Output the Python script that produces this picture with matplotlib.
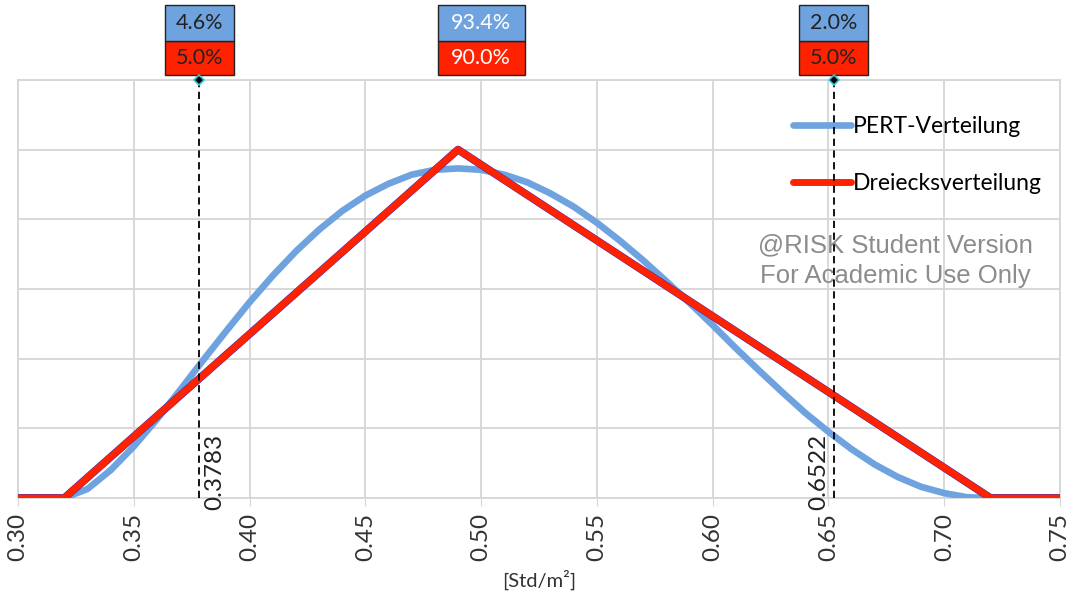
import matplotlib.pyplot as plt
import matplotlib.transforms as mtransforms
from matplotlib.patches import Rectangle

plt.rcParams['font.family'] = ['Lato', 'DejaVu Sans']

# ------------------------------------------------------------
# Daten
# ------------------------------------------------------------

# Dreiecksverteilung: min 0.32, mode 0.49, max 0.72
tri_x = [0.30, 0.32, 0.49, 0.72, 0.75]
tri_y = [0.0, 0.0, 5.0, 0.0, 0.0]

pert_x = [0.32, 0.33, 0.34, 0.35, 0.36, 0.37, 0.38, 0.39, 0.40, 0.41,
          0.42, 0.43, 0.44, 0.45, 0.46, 0.47, 0.48, 0.49, 0.50, 0.51,
          0.52, 0.53, 0.54, 0.55, 0.56, 0.57, 0.58, 0.59, 0.60, 0.61,
          0.62, 0.63, 0.64, 0.65, 0.66, 0.67, 0.68, 0.69, 0.70, 0.71, 0.72]
pert_y = [0.0, 0.13, 0.40, 0.74, 1.13, 1.55, 1.98, 2.40, 2.81, 3.19,
          3.54, 3.85, 4.12, 4.34, 4.51, 4.64, 4.71, 4.73, 4.71, 4.64,
          4.53, 4.37, 4.18, 3.95, 3.69, 3.41, 3.11, 2.80, 2.48, 2.15,
          1.83, 1.52, 1.22, 0.95, 0.70, 0.48, 0.30, 0.16, 0.07, 0.01, 0.0]

# Markierungen (Perzentile)
marker_x = [0.3783, 0.6522]
marker_labels = ['0.3783', '0.6522']

# Wahrscheinlichkeits-Boxen oben: Position, PERT, Dreieck
box_x = [0.3783, 0.50, 0.6522]
box_pert = ['4.6%', '93.4%', '2.0%']
box_tri = ['5.0%', '90.0%', '5.0%']
box_text_color = ['#222222', 'white', '#222222']

x_ticks = [0.30, 0.35, 0.40, 0.45, 0.50, 0.55, 0.60, 0.65, 0.70, 0.75]

# ------------------------------------------------------------
# Farben
# ------------------------------------------------------------

pert_color = '#6fa3df'
tri_color = '#ff2200'
grid_color = '#d6d6d6'

# ------------------------------------------------------------
# Figure
# ------------------------------------------------------------

fig = plt.figure(figsize=(10.74, 5.92), dpi=100)
ax = fig.add_axes([0.0168, 0.1588, 0.9702, 0.7062])

ax.plot(pert_x, pert_y, color=pert_color, lw=4.8,
        solid_capstyle='round', solid_joinstyle='round',
        label='PERT-Verteilung', zorder=3)
ax.plot(tri_x, tri_y, color='#2a2ad0', lw=5.6, zorder=4)
ax.plot(tri_x, tri_y, color=tri_color, lw=5.0,
        solid_capstyle='round', label='Dreiecksverteilung', zorder=5)

ax.set_xlim(0.30, 0.75)
ax.set_ylim(0, 6)
ax.set_xticks(x_ticks)
ax.set_xticklabels([f'{t:.2f}' for t in x_ticks])
ax.set_yticks(range(0, 7))
ax.tick_params(axis='y', length=0, labelleft=False)
ax.tick_params(axis='x', direction='out', length=6, color=grid_color,
               labelrotation=90, labelsize=17.5, labelcolor='#333333', pad=5)

ax.grid(True, color=grid_color, lw=1.3)
ax.set_axisbelow(True)
for s in ax.spines.values():
    s.set_color(grid_color)
    s.set_linewidth(1.3)

ax.set_xlabel('[Std/m²]', fontsize=14.5, color='#333333', labelpad=6)

# ------------------------------------------------------------
# Markierungslinien
# ------------------------------------------------------------

for i, mx in enumerate(marker_x):
    ax.axvline(mx, color='black', lw=1.3, ls=(0, (4, 2.5)), zorder=6)
    ax.plot(mx, 6, marker='D', ms=5, mfc='black', mec='#30c8d8',
            mew=1.2, clip_on=False, zorder=7)
    if i == 0:
        ax.text(mx + 0.002, -0.17, marker_labels[i], rotation=90,
                ha='left', va='bottom', fontsize=17.5, color='#222222',
                zorder=8)
    else:
        ax.text(mx - 0.002, -0.17, marker_labels[i], rotation=90,
                ha='right', va='bottom', fontsize=17.5, color='#222222',
                zorder=8)

# ------------------------------------------------------------
# Boxen oben
# ------------------------------------------------------------

trans = mtransforms.blended_transform_factory(ax.transData, ax.transAxes)

for i in range(len(box_x)):
    w = 0.0075 * len(box_pert[i])
    x0 = box_x[i] - w / 2
    ax.add_patch(Rectangle((x0, 1.012), w, 0.081, transform=trans,
                           facecolor=tri_color, edgecolor='#222222',
                           lw=1.0, clip_on=False))
    ax.add_patch(Rectangle((x0, 1.093), w, 0.086, transform=trans,
                           facecolor=pert_color, edgecolor='#222222',
                           lw=1.0, clip_on=False))
    ax.text(box_x[i], 1.0525, box_tri[i], transform=trans, ha='center',
            va='center', fontsize=15.5, color=box_text_color[i])
    ax.text(box_x[i], 1.136, box_pert[i], transform=trans, ha='center',
            va='center', fontsize=15.5, color=box_text_color[i])

# ------------------------------------------------------------
# Legende & Wasserzeichen
# ------------------------------------------------------------

ax.legend(loc='upper right', bbox_to_anchor=(0.994, 0.94), frameon=False,
          fontsize=16.5, handlelength=2.5, handletextpad=0.12,
          labelspacing=1.55, borderpad=0)

ax.text(0.842, 0.567, '@RISK Student Version\nFor Academic Use Only',
        transform=ax.transAxes, ha='center', va='center', fontsize=18.5,
        color='#8c8c8c', family='Liberation Sans', linespacing=1.35,
        zorder=2)

fig.patch.set_facecolor('white')
plt.savefig('out.png', dpi=100)
